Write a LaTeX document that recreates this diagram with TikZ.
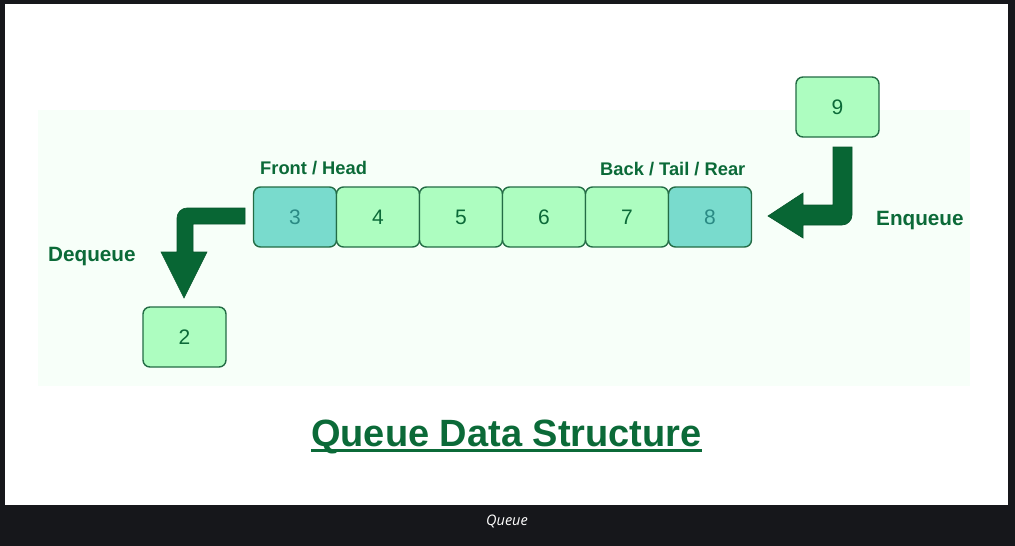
\documentclass[tikz,border=0pt]{standalone}
\usepackage{fontspec}
\setmainfont{Liberation Sans}
\newfontfamily\capfont{Open Sans}
\definecolor{frame}{HTML}{16171B}
\definecolor{mint}{HTML}{F7FFF9}
\definecolor{cellgreen}{HTML}{ADFDC0}
\definecolor{cellteal}{HTML}{79DBCD}
\definecolor{celledge}{HTML}{236C45}
\definecolor{darkgreen}{HTML}{0B6A38}
\definecolor{arrowgreen}{HTML}{086634}
\definecolor{tealtext}{HTML}{2A8A84}
\begin{document}
\begin{tikzpicture}[x=1pt,y=-1pt,
  cell/.style={draw=celledge, line width=1.4pt, rounded corners=7pt,
    minimum width=83pt, minimum height=60pt, inner sep=0pt,
    fill=cellgreen, text=darkgreen, font=\fontsize{21}{21}\selectfont},
  endcell/.style={cell, fill=cellteal, text=tealtext},
  tag/.style={inner sep=0pt, anchor=base west, text=darkgreen,
    font=\fontsize{18.3}{18.3}\selectfont\bfseries},
  optag/.style={tag, font=\fontsize{20.7}{20.7}\selectfont\bfseries},
  bentarrow/.style={fill=arrowgreen, draw=arrowgreen!85!black, line width=0.6pt, line join=miter}]
  \useasboundingbox (0,0) rectangle (1015,546);
  % page frame and caption band
  \fill[frame] (0,0) rectangle (1015,546);
  \fill[white] (5,4) rectangle (1008,505);
  \fill[mint] (38,110) rectangle (970,386);

  % queue cells
  \node[endcell] (c3) at (295,217) {3};
  \node[cell]    (c4) at (378,217) {4};
  \node[cell]    (c5) at (461,217) {5};
  \node[cell]    (c6) at (544,217) {6};
  \node[cell]    (c7) at (627,217) {7};
  \node[endcell] (c8) at (710,217) {8};
  \node[cell] (in)  at (837.5,107) {9};
  \node[cell] (out) at (184.5,337) {2};

  % labels
  \node[tag] (front) at (260,174) {Front / Head};
  \node[tag] (back)  at (600,175) {Back / Tail / Rear};
  \node[optag] (enq) at (876,225) {Enqueue};
  \node[optag] (deq) at (48,261) {Dequeue};

  % enqueue arrow: from 9 down and left into the rear
  \draw[bentarrow] (833,147) -- (852,147) -- (852,215)
    arc[start angle=0, end angle=90, radius=10] -- (803,225) -- (803,238)
    -- (768,216) -- (803,193) -- (803,205) -- (833,205) -- cycle;

  % dequeue arrow: from the front out and down to 2
  \draw[bentarrow] (245,208) -- (187,208)
    arc[start angle=-90, end angle=-180, radius=10] -- (177,252) -- (161,252)
    -- (184,298) -- (207,252) -- (193,252) -- (193,224) -- (245,224) -- cycle;

  % title
  \node[inner sep=0pt, anchor=base, text=darkgreen,
    font=\fontsize{38}{38}\selectfont\bfseries] (title) at (506.5,446) {Queue Data Structure};
  \draw[darkgreen, line width=3pt] ([yshift=-4.5pt]title.base west) -- ([yshift=-4.5pt]title.base east);

  % caption
  \node[text=white, font=\capfont\itshape\fontsize{14.5}{14.5}\selectfont] (cap) at (507,521) {Queue};
\end{tikzpicture}
\end{document}
